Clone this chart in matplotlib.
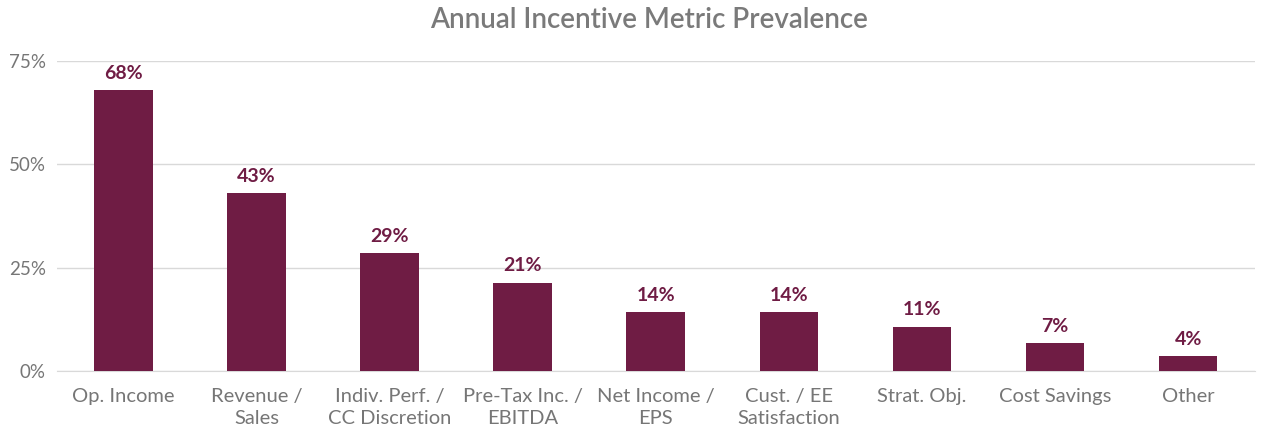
import matplotlib
matplotlib.use("Agg")
import matplotlib.pyplot as plt
import numpy as np

plt.rcParams.update({
    'font.family': ['Lato', 'DejaVu Sans'],
    'axes.spines.top': False,
    'axes.spines.right': False,
    'axes.spines.left': False,
})

# ── Data ──────────────────────────────────────────────────────────
CATEGORIES = ["Op. Income", "Revenue /\nSales", "Indiv. Perf. /\nCC Discretion",
              "Pre-Tax Inc. /\nEBITDA", "Net Income /\nEPS", "Cust. / EE\nSatisfaction",
              "Strat. Obj.", "Cost Savings", "Other"]
VALUES = [68.0, 43.0, 28.5, 21.4, 14.3, 14.3, 10.7, 6.8, 3.6]
VALUE_LABELS = ["68%", "43%", "29%", "21%", "14%", "14%", "11%", "7%", "4%"]
YTICKS = [0, 25, 50, 75]

C_BAR = "#6F1C44"
C_GRID = "#D9D9D9"
C_TEXT = "#767676"

fig = plt.figure(figsize=(12.61, 4.28), dpi=100)
ax = fig.add_axes([0.045, 0.1332, 0.950, 0.7243])

x = np.arange(len(CATEGORIES))
ax.bar(x, VALUES, width=0.44, color=C_BAR, zorder=3)

for xi, v, lab in zip(x, VALUES, VALUE_LABELS):
    ax.annotate(lab, (xi, v), xytext=(0, 6), textcoords="offset points",
                ha="center", va="bottom", fontsize=14, fontweight="bold",
                color=C_BAR)

ax.set_xlim(-0.5, len(CATEGORIES) - 0.5)
ax.set_ylim(0, 75)
ax.set_yticks(YTICKS)
ax.set_yticklabels([f"{t}%" for t in YTICKS])
ax.set_xticks(x)
ax.set_xticklabels(CATEGORIES, linespacing=1.35)

ax.grid(axis="y", color=C_GRID, linewidth=1.0, zorder=0)
ax.spines["bottom"].set_color(C_GRID)
ax.tick_params(axis="both", length=0, colors=C_TEXT)
ax.tick_params(axis="x", pad=12, labelsize=14.5)
ax.tick_params(axis="y", pad=8, labelsize=13.5)

fig.text(0.515, 0.953, "Annual Incentive Metric Prevalence", ha="center", va="center",
         fontsize=20, color="#7a7a7a", fontweight="semibold")

fig.savefig("out.png", dpi=100)
